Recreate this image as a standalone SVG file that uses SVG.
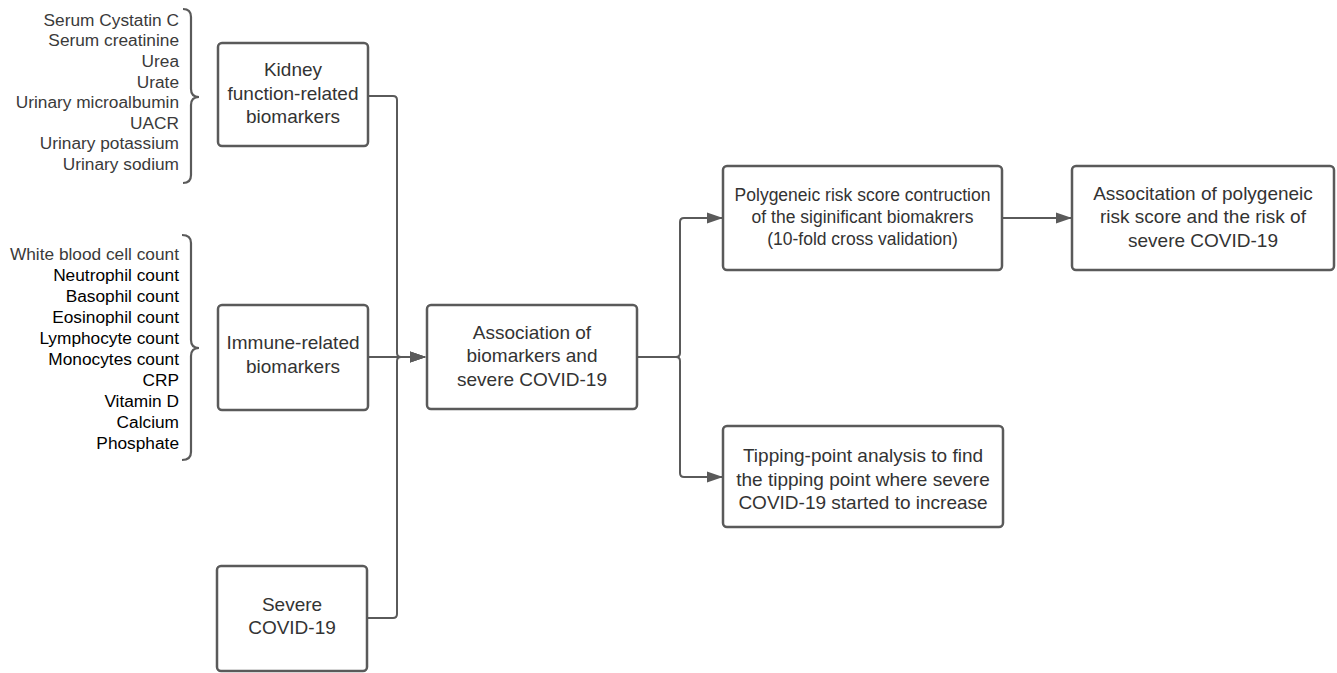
<svg xmlns="http://www.w3.org/2000/svg" width="1337" height="673" viewBox="0 0 1337 673">
<style>
.box{fill:#fff;stroke:#5a5a5a;stroke-width:2.5}
.t{font-family:"Liberation Sans",Arial,sans-serif;font-size:19px;fill:#333;text-anchor:middle}
.ts{font-family:"Liberation Sans",Arial,sans-serif;font-size:17.5px;fill:#333;text-anchor:middle}
.l{font-family:"Liberation Sans",Arial,sans-serif;font-size:17.3px;fill:#3a3a3a;text-anchor:end}
.lb{fill:#000}
.c{fill:none;stroke:#5a5a5a;stroke-width:2}
.br{fill:none;stroke:#5a5a5a;stroke-width:2.2}
</style>
<defs>
<marker id="ah" markerWidth="16" markerHeight="12" refX="15" refY="6" orient="auto" markerUnits="userSpaceOnUse">
<path d="M0,0.5 L16,6 L0,11.5 Z" fill="#5a5a5a"/>
</marker>
</defs>
<rect width="1337" height="673" fill="#fff"/>
<g id="kidney-list">
<text class="l" x="179" y="25.5">Serum Cystatin C</text>
<text class="l" x="179" y="46.2">Serum creatinine</text>
<text class="l" x="179" y="66.8">Urea</text>
<text class="l" x="179" y="87.5">Urate</text>
<text class="l" x="179" y="108.1">Urinary microalbumin</text>
<text class="l" x="179" y="128.8">UACR</text>
<text class="l" x="179" y="149.4">Urinary potassium</text>
<text class="l" x="179" y="170">Urinary sodium</text>
<path class="br" d="M183,9 Q191,9 191,17 V89 Q191,97 199,97 Q191,97 191,105 V175 Q191,183 183,183"/>
</g>
<g id="immune-list">
<text class="l" x="179" y="260">White blood cell count</text>
<text class="l lb" x="179" y="281">Neutrophil count</text>
<text class="l lb" x="179" y="302">Basophil count</text>
<text class="l lb" x="179" y="323">Eosinophil count</text>
<text class="l lb" x="179" y="344">Lymphocyte count</text>
<text class="l lb" x="179" y="365">Monocytes count</text>
<text class="l lb" x="179" y="386">CRP</text>
<text class="l lb" x="179" y="407">Vitamin D</text>
<text class="l lb" x="179" y="428">Calcium</text>
<text class="l lb" x="179" y="449">Phosphate</text>
<path class="br" d="M182,235 Q191,235 191,243 V340 Q191,348 199,348 Q191,348 191,356 V452 Q191,460 182,460"/>
</g>
<g id="connectors">
<path class="c" d="M368,96 H393 Q397,96 397,100 V353 Q397,357 401,357 H425" marker-end="url(#ah)"/>
<path class="c" d="M367,618 H393 Q397,618 397,614 V361 Q397,357 401,357 H425" marker-end="url(#ah)"/>
<path class="c" d="M368,357 H425" marker-end="url(#ah)"/>
<path class="c" d="M637,357 H676 Q680,357 680,353 V222 Q680,218 684,218 H722" marker-end="url(#ah)"/>
<path class="c" d="M637,357 H676 Q680,357 680,361 V473 Q680,477 684,477 H722" marker-end="url(#ah)"/>
<path class="c" d="M1002,218 H1071" marker-end="url(#ah)"/>
</g>
<g id="kidney">
<rect class="box" x="218" y="43" width="150" height="103" rx="4"/>
<text class="t" x="293" y="76">Kidney</text>
<text class="t" x="293" y="100">function-related</text>
<text class="t" x="293" y="123">biomarkers</text>
</g>
<g id="immune">
<rect class="box" x="218" y="305" width="150" height="105" rx="4"/>
<text class="t" x="293" y="349">Immune-related</text>
<text class="t" x="293" y="373">biomarkers</text>
</g>
<g id="severe">
<rect class="box" x="217" y="566" width="150" height="105" rx="4"/>
<text class="t" x="292" y="611">Severe</text>
<text class="t" x="292" y="634">COVID-19</text>
</g>
<g id="association">
<rect class="box" x="427" y="305" width="210" height="104" rx="4"/>
<text class="t" x="532" y="339">Association of</text>
<text class="t" x="532" y="362">biomarkers and</text>
<text class="t" x="532" y="386">severe COVID-19</text>
</g>
<g id="prs">
<rect class="box" x="723" y="166" width="279" height="104" rx="4"/>
<text class="ts" x="862.5" y="201">Polygeneic risk score contruction</text>
<text class="ts" x="862.5" y="223">of the siginificant biomakrers</text>
<text class="ts" x="862.5" y="245">(10-fold cross validation)</text>
</g>
<g id="prs-association">
<rect class="box" x="1072" y="166" width="262" height="104" rx="4"/>
<text class="t" x="1203" y="200">Associtation of polygeneic</text>
<text class="t" x="1203" y="223">risk score and the risk of</text>
<text class="t" x="1203" y="247">severe COVID-19</text>
</g>
<g id="tipping">
<rect class="box" x="723" y="426" width="280" height="101" rx="4"/>
<text class="t" x="863" y="462">Tipping-point analysis to find</text>
<text class="t" x="863" y="486">the tipping point where severe</text>
<text class="t" x="863" y="509">COVID-19 started to increase</text>
</g>
</svg>
